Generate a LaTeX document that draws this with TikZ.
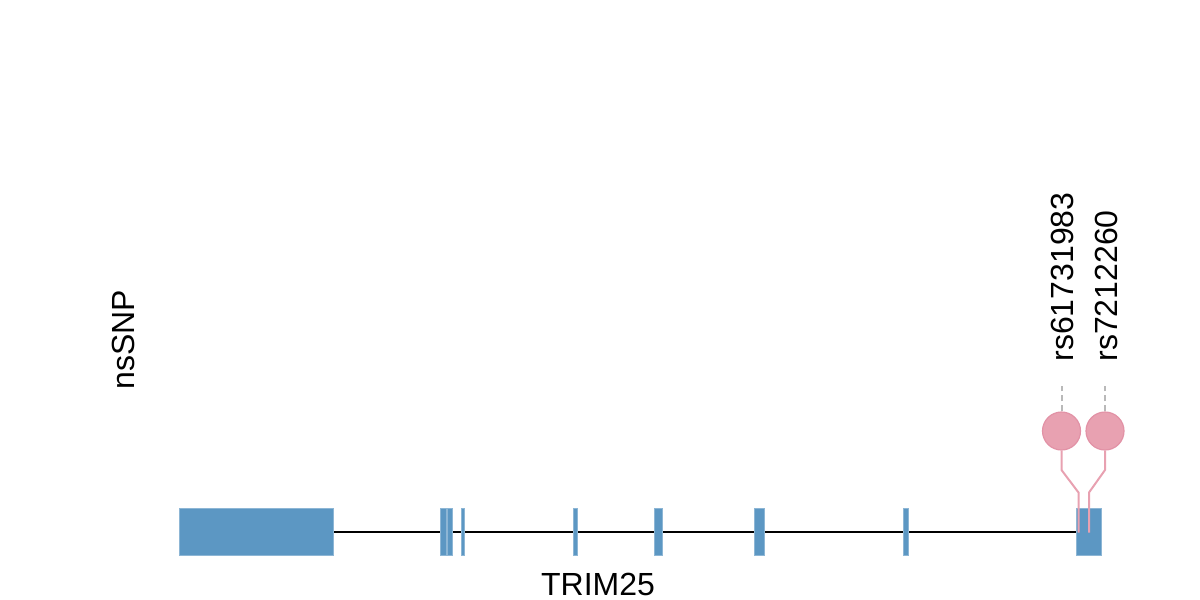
\documentclass[tikz,border=0pt]{standalone}
\usepackage{fontspec}
\setmainfont{Liberation Sans}
\definecolor{exonblue}{RGB}{92,151,195}
\definecolor{snppink}{RGB}{232,161,177}
\definecolor{snpedge}{RGB}{226,146,166}
\definecolor{tickgray}{RGB}{185,185,185}
\begin{document}
\begin{tikzpicture}[x=0.5pt, y=-0.5pt, every node/.style={font=\fontsize{16}{19}\selectfont, inner sep=0pt},
		exon/.style={fill=exonblue, draw=exonblue!70!white, line width=0.4pt},
		snp/.style={circle, fill=snppink, draw=snpedge, line width=0.6pt, minimum size=19pt},
		stem/.style={draw=snppink, line width=1pt},
		tick/.style={draw=tickgray, dash pattern=on 3pt off 2pt, line width=1pt}]
	\useasboundingbox (0,0) rectangle (1200,600);
	
	% 内含子骨架
	\draw[line width=1pt] (333,531.5) -- (1076,531.5);
	
	% 外显子
	\foreach \a/\b in {179/333, 440/446, 447/452, 461/464, 573.5/577.5, 654.5/662, 754.5/764.5, 903/908, 1076/1101}
		\draw[exon] (\a,508.5) rectangle (\b,555);
	
	% nsSNP 位点 (棒棒糖)
	\node[snp] (snpA) at (1061.5,431) {};
	\node[snp] (snpB) at (1105,431) {};
	\coordinate (bendA) at (1061.5,470);
	\coordinate (kneeA) at (1078.5,492.5);
	\coordinate (footA) at (1078.5,532.5);
	\coordinate (bendB) at (1105,470);
	\coordinate (kneeB) at (1089,492.5);
	\coordinate (footB) at (1089,532.5);
	\draw[stem] (snpA.south) -- (bendA) -- (kneeA) -- (footA);
	\draw[stem] (snpB.south) -- (bendB) -- (kneeB) -- (footB);
	
	% 虚线引线与标签
	\coordinate (tipA) at (1061.5,386);
	\coordinate (tipB) at (1105,386);
	\draw[tick] (snpA.north) -- (tipA);
	\draw[tick] (snpB.north) -- (tipB);
	\node[rotate=90, anchor=base west] (labA) at (1073,362) {rs61731983};
	\node[rotate=90, anchor=base west] (labB) at (1117,362) {rs7212260};
	
	% 轨道名与基因名
	\node[rotate=90, anchor=base west] (track) at (134,390) {nsSNP};
	\node[anchor=base] (gene) at (598,595) {TRIM25};
\end{tikzpicture}
\end{document}
